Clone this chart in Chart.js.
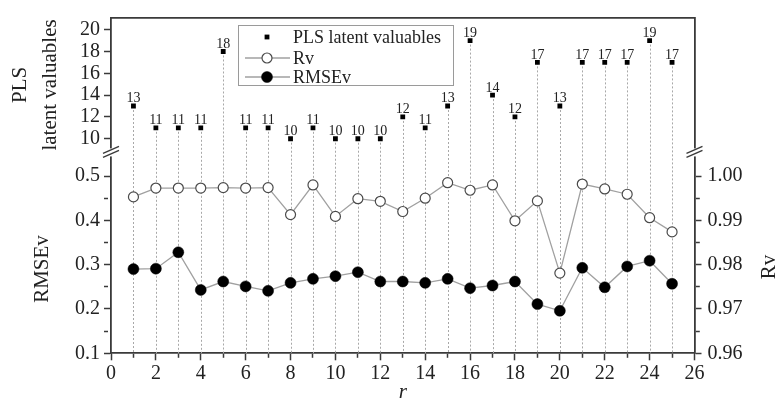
<!DOCTYPE html>
<html><head><meta charset="utf-8">
<script src="https://cdn.jsdelivr.net/npm/chart.js@4.4.1/dist/chart.umd.min.js"></script>
<style>html,body{margin:0;padding:0;background:#fff;}#wrap{width:780px;height:403px;}</style>
</head><body><div id="wrap"><canvas id="c" width="780" height="403"></canvas></div>
<script>
// ---- data ----
const rValues   = [1,2,3,4,5,6,7,8,9,10,11,12,13,14,15,16,17,18,19,20,21,22,23,24,25];
const plsLatent = [13,11,11,11,18,11,11,10,11,10,10,10,12,11,13,19,14,12,17,13,17,17,17,19,17];
const rmsev     = [0.290,0.291,0.328,0.243,0.262,0.251,0.241,0.259,0.268,0.274,0.283,0.262,0.262,0.259,0.268,0.247,0.253,0.262,0.211,0.196,0.293,0.249,0.296,0.309,0.257];
const rv        = [0.9953,0.9973,0.9973,0.9973,0.9974,0.9973,0.9974,0.9913,0.9980,0.9909,0.9949,0.9943,0.9920,0.9950,0.9985,0.9968,0.9980,0.9899,0.9944,0.9781,0.9982,0.9971,0.9959,0.9906,0.9874];
// ---- tick values ----
const xTicks    = [0,1,2,3,4,5,6,7,8,9,10,11,12,13,14,15,16,17,18,19,20,21,22,23,24,25,26];
const plsTicks  = [10,12,14,16,18,20];
const rmseTicks = [0.1,0.15,0.2,0.25,0.3,0.35,0.4,0.45,0.5];
const rvTicks   = [0.96,0.965,0.97,0.975,0.98,0.985,0.99,0.995,1.00];

const serif = "'Liberation Serif','Times New Roman',serif";
const axisColor = '#3a3a3a';
const txtColor = '#222';
const isMajor = (v, step) => Math.abs(v / step - Math.round(v / step)) < 1e-6;
const tickFont = {family: serif, size: 20};

const decor = {
  id: 'decor',
  beforeDatasetsDraw(chart) {
    const ctx = chart.ctx, meta = chart.getDatasetMeta(0), bottom = chart.chartArea.bottom;
    ctx.save();
    ctx.strokeStyle = '#a8a8a8'; ctx.lineWidth = 1; ctx.setLineDash([2, 2]);
    meta.data.forEach(el => {
      const x = Math.round(el.x) + 0.5;
      ctx.beginPath(); ctx.moveTo(x, el.y); ctx.lineTo(x, bottom); ctx.stroke();
    });
    ctx.restore();
  },
  afterDatasetsDraw(chart) {
    const ctx = chart.ctx, meta = chart.getDatasetMeta(0), data = chart.data.datasets[0].data;
    ctx.save();
    ctx.font = `14px ${serif}`; ctx.fillStyle = txtColor; ctx.textAlign = 'center'; ctx.textBaseline = 'alphabetic';
    meta.data.forEach((el, i) => ctx.fillText(String(data[i].y), el.x, el.y - 3.6));
    ctx.restore();
  },
  afterDraw(chart) {
    const ctx = chart.ctx, ca = chart.chartArea;
    const splitY = chart.scales.yTop.bottom;
    ctx.save();
    // axis breaks
    [ca.left, ca.right].forEach(x => {
      ctx.fillStyle = '#fff';
      ctx.fillRect(x - 3, splitY - 3.5, 6, 8);
      ctx.strokeStyle = axisColor; ctx.lineWidth = 1.4; ctx.setLineDash([]);
      [-2, 2].forEach(d => {
        ctx.beginPath(); ctx.moveTo(x - 8, splitY + d + 3.5); ctx.lineTo(x + 8, splitY + d - 3.5); ctx.stroke();
      });
    });
    // legend
    const ds = chart.data.datasets;
    ctx.strokeStyle = '#9a9a9a'; ctx.lineWidth = 1;
    ctx.strokeRect(238.5, 25.5, 215, 60);
    ctx.font = `18px ${serif}`; ctx.textAlign = 'left'; ctx.textBaseline = 'middle';
    ctx.fillStyle = '#000'; ctx.fillRect(264.6, 34.6, 4.8, 4.8);
    ctx.fillStyle = txtColor; ctx.fillText(ds[0].label, 293, 38);
    [[1, 58], [2, 77]].forEach(([i, y]) => {
      ctx.strokeStyle = '#a0a0a0'; ctx.lineWidth = 1.3;
      ctx.beginPath(); ctx.moveTo(245, y); ctx.lineTo(290, y); ctx.stroke();
      ctx.beginPath(); ctx.arc(267, y, i === 1 ? 5 : 5.5, 0, Math.PI * 2);
      ctx.fillStyle = ds[i].pointBackgroundColor; ctx.fill();
      ctx.strokeStyle = ds[i].pointBorderColor; ctx.lineWidth = ds[i].pointBorderWidth; ctx.stroke();
      ctx.fillStyle = txtColor; ctx.fillText(ds[i].label, 293, y + 1);
    });
    // rotated titles for bottom panel
    ctx.font = `21px ${serif}`; ctx.textAlign = 'center'; ctx.textBaseline = 'middle'; ctx.fillStyle = txtColor;
    [['RMSEv', 42, 269], ['Rv', 769, 267]].forEach(([t, x, y]) => {
      ctx.save(); ctx.translate(x, y); ctx.rotate(-Math.PI / 2); ctx.fillText(t, 0, 0); ctx.restore();
    });
    ctx.restore();
  }
};

new Chart(document.getElementById('c'), {
  type: 'scatter',
  data: {
    datasets: [
      {label: 'PLS latent valuables', xAxisID: 'x', yAxisID: 'yTop',
       data: rValues.map((r, i) => ({x: r, y: plsLatent[i]})),
       pointStyle: 'rect', pointRadius: 3.4, pointBackgroundColor: '#000', pointBorderWidth: 0, showLine: false},
      {label: 'Rv', xAxisID: 'x', yAxisID: 'yRv',
       data: rValues.map((r, i) => ({x: r, y: rv[i]})),
       showLine: true, borderColor: '#a0a0a0', borderWidth: 1.3,
       pointRadius: 5, pointBackgroundColor: '#fff', pointBorderColor: '#4a4a4a', pointBorderWidth: 1.2},
      {label: 'RMSEv', xAxisID: 'x', yAxisID: 'yBottom',
       data: rValues.map((r, i) => ({x: r, y: rmsev[i]})),
       showLine: true, borderColor: '#a0a0a0', borderWidth: 1.3,
       pointRadius: 5.5, pointBackgroundColor: '#000', pointBorderColor: '#000', pointBorderWidth: 0.5}
    ]
  },
  options: {
    responsive: false, animation: false, devicePixelRatio: 1,
    layout: {padding: 0},
    plugins: {legend: {display: false}, tooltip: {enabled: false}},
    scales: {
      x: {
        type: 'linear', position: 'bottom', min: 0, max: 26,
        afterBuildTicks: s => { s.ticks = xTicks.map(v => ({value: v})); },
        ticks: {callback: v => isMajor(v, 2) ? String(v) : '', font: tickFont, color: txtColor, padding: 1, maxRotation: 0, autoSkip: false},
        grid: {drawOnChartArea: false, drawTicks: true, tickLength: 7, tickColor: axisColor, tickWidth: 1.5,
               tickBorderDash: c => (c.tick && isMajor(c.tick.value, 2)) ? [] : [4, 30]},
        border: {color: axisColor, width: 1.8},
        title: {display: true, text: 'r', color: txtColor, font: {family: serif, size: 21, style: 'italic', lineHeight: 1}, padding: {top: 0, bottom: 0}},
        afterFit: s => { s.height = 49.7; }
      },
      xTop: {
        type: 'linear', position: 'top', min: 0, max: 26,
        ticks: {display: false}, grid: {display: false},
        border: {display: true, color: axisColor, width: 1.8},
        afterFit: s => { s.height = 17.3; }
      },
      yTop: {
        type: 'linear', position: 'left', stack: 'L', stackWeight: 134.2, weight: 1,
        min: 8.79, max: 21.07,
        afterBuildTicks: s => { s.ticks = plsTicks.map(v => ({value: v})); },
        ticks: {callback: v => String(v), font: tickFont, color: txtColor, padding: 4, autoSkip: false},
        grid: {drawOnChartArea: false, tickLength: 7, tickColor: axisColor, tickWidth: 1.5},
        border: {color: axisColor, width: 1.8},
        title: {display: true, text: ['PLS', 'latent valuables'], color: txtColor, font: {family: serif, size: 21, lineHeight: 1.43}, padding: {top: 5, bottom: 0}},
        afterFit: s => { s.width = 111; }
      },
      yBottom: {
        type: 'linear', position: 'left', stack: 'L', stackWeight: 201.8, weight: 0,
        min: 0.1, max: 0.5545,
        afterBuildTicks: s => { s.ticks = rmseTicks.map(v => ({value: v})); },
        ticks: {callback: v => isMajor(v, 0.1) ? v.toFixed(1) : '', font: tickFont, color: txtColor, padding: 4, autoSkip: false},
        grid: {drawOnChartArea: false, tickLength: 7, tickColor: axisColor, tickWidth: 1.5,
               tickBorderDash: c => (c.tick && isMajor(c.tick.value, 0.1)) ? [] : [4, 30]},
        border: {color: axisColor, width: 1.8},
        afterFit: s => { s.width = 111; }
      },
      yRTop: {
        type: 'linear', position: 'right', stack: 'R', stackWeight: 134.2, weight: 0,
        min: 0, max: 1,
        ticks: {display: false}, grid: {display: false},
        border: {display: true, color: axisColor, width: 1.8},
        afterFit: s => { s.width = 85.5; }
      },
      yRv: {
        type: 'linear', position: 'right', stack: 'R', stackWeight: 201.8, weight: 1,
        min: 0.96, max: 1.00545,
        afterBuildTicks: s => { s.ticks = rvTicks.map(v => ({value: v})); },
        ticks: {callback: v => isMajor(v, 0.01) ? v.toFixed(2) : '', font: tickFont, color: txtColor, padding: 6, autoSkip: false},
        grid: {drawOnChartArea: false, tickLength: 7, tickColor: axisColor, tickWidth: 1.5,
               tickBorderDash: c => (c.tick && isMajor(c.tick.value, 0.01)) ? [] : [4, 30]},
        border: {color: axisColor, width: 1.8},
        afterFit: s => { s.width = 85.5; }
      }
    }
  },
  plugins: [decor]
});
</script></body></html>
